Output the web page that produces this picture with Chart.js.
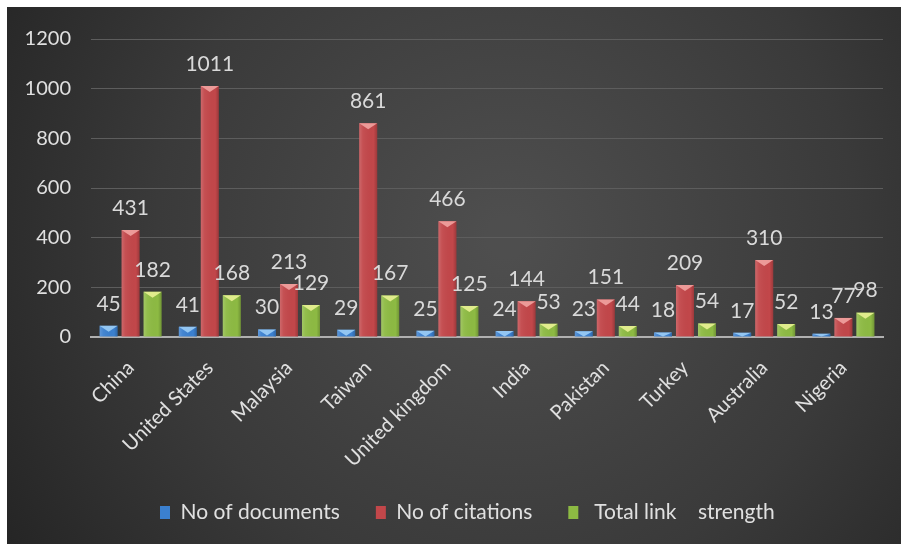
<!DOCTYPE html>
<html>
<head>
<meta charset="utf-8">
<script src="https://cdn.jsdelivr.net/npm/chart.js@4.4.1/dist/chart.umd.min.js"></script>
<style>
  html, body { margin: 0; padding: 0; background: #ffffff; }
  #wrap { position: absolute; left: 7px; top: 7px; width: 894px; height: 537px; }
</style>
</head>
<body>
<div id="wrap"><canvas id="countryChart"></canvas></div>
<script>
const countries = ["China", "United States", "Malaysia", "Taiwan", "United kingdom",
    "India", "Pakistan", "Turkey", "Australia", "Nigeria"];
const documents = [45, 41, 30, 29, 25, 24, 23, 18, 17, 13];
const citations = [431, 1011, 213, 861, 466, 144, 151, 209, 310, 77];
const linkStrength = [182, 168, 129, 167, 125, 53, 44, 54, 52, 98];

const seriesNames = ["No of documents", "No of citations", " Total link    strength"];
const barColors = ["#3b80cf", "#c2474a", "#8dba43"];
const topColors = ["#93c6f2", "#ec9a98", "#e0ec8c"];

const labelFont = "Lato, 'Liberation Sans', sans-serif";

// dark radial backdrop like the office theme
const backdrop = {
    id: 'backdrop',
    beforeDraw(chart) {
        const { ctx, width, height } = chart;
        const g = ctx.createRadialGradient(500, 230, 20, 500, 230, 620);
        g.addColorStop(0, '#4e4e4e');
        g.addColorStop(0.55, '#3a3a3a');
        g.addColorStop(1, '#222222');
        ctx.save();
        ctx.fillStyle = g;
        ctx.fillRect(0, 0, width, height);
        ctx.restore();
    }
};

// bevel on top of each bar + value labels
const barDecor = {
    id: 'barDecor',
    afterDatasetsDraw(chart) {
        const ctx = chart.ctx;
        chart.data.datasets.forEach((ds, i) => {
            const meta = chart.getDatasetMeta(i);
            meta.data.forEach((bar, j) => {
                const half = bar.width / 2;
                const left = bar.x - half, right = bar.x + half;
                const top = bar.y, bottom = bar.base;
                ctx.save();
                const side = ctx.createLinearGradient(left, 0, right, 0);
                side.addColorStop(0, 'rgba(255,255,255,0.18)');
                side.addColorStop(0.2, 'rgba(255,255,255,0.05)');
                side.addColorStop(0.8, 'rgba(0,0,0,0.0)');
                side.addColorStop(1, 'rgba(0,0,0,0.2)');
                ctx.fillStyle = side;
                ctx.fillRect(left, top, bar.width, bottom - top);
                const tri = Math.min(6, bottom - top);
                ctx.beginPath();
                ctx.moveTo(left, top);
                ctx.lineTo(right, top);
                ctx.lineTo(bar.x, top + tri);
                ctx.closePath();
                ctx.fillStyle = topColors[i];
                ctx.fill();
                ctx.restore();

                ctx.save();
                ctx.fillStyle = '#d9d9d9';
                ctx.font = '21px ' + labelFont;
                ctx.textAlign = 'center';
                ctx.textBaseline = 'middle';
                ctx.fillText(String(ds.data[j]), bar.x, top - 22);
                ctx.restore();
            });
        });
    }
};

// legend starts at a fixed spot like the original
const legendShift = {
    id: 'legendShift',
    afterLayout(chart) {
        chart.legend.left = 153 - 36;
    }
};

const ctx = document.getElementById("countryChart").getContext("2d");

new Chart(ctx, {
    type: 'bar',
    data: {
        labels: countries,
        datasets: [documents, citations, linkStrength].map((vals, i) => ({
            label: seriesNames[i],
            data: vals,
            backgroundColor: barColors[i],
            borderWidth: 0,
            categoryPercentage: 0.833,
            barPercentage: 0.82
        }))
    },
    options: {
        responsive: true,
        maintainAspectRatio: false,
        animation: false,
        layout: { padding: { top: 28, right: 18, bottom: 11, left: 0 } },
        plugins: {
            legend: {
                position: 'bottom',
                align: 'start',
                labels: {
                    color: '#e0e0e0',
                    font: { family: labelFont, size: 21 },
                    boxWidth: 10,
                    boxHeight: 13,
                    padding: 36
                }
            },
            tooltip: { enabled: false }
        },
        scales: {
            x: {
                grid: { display: false },
                border: { display: true, color: '#b0b0b0', width: 2 },
                ticks: {
                    color: '#e0e0e0',
                    font: { family: labelFont, size: 20 },
                    maxRotation: 45,
                    minRotation: 45,
                    autoSkip: false,
                    padding: 11
                },
                afterFit(scale) { scale.height = 129; }
            },
            y: {
                min: 0,
                max: 1200,
                ticks: {
                    stepSize: 200,
                    color: '#e0e0e0',
                    font: { family: labelFont, size: 20 },
                    padding: 20,
                    callback: v => String(v)
                },
                grid: { color: '#5d5d5d', lineWidth: 1, drawTicks: false },
                border: { display: false },
                afterFit(scale) { scale.width = 84; }
            }
        }
    },
    plugins: [backdrop, barDecor, legendShift]
});
</script>
</body>
</html>
